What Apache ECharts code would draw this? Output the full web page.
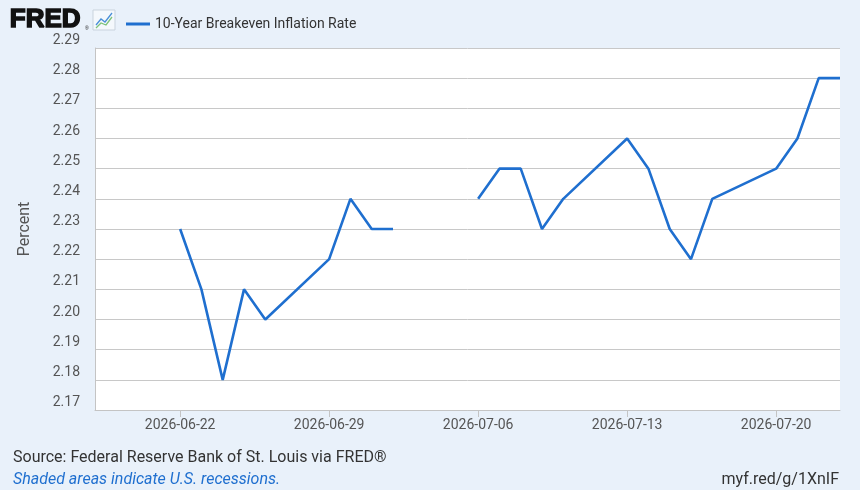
<!DOCTYPE html>
<html>
<head>
<meta charset="utf-8">
<script src="https://cdn.jsdelivr.net/npm/echarts@6/dist/echarts.min.js"></script>
<style>
html,body{margin:0;padding:0;background:#e9f1fa;}
#chart{width:860px;height:490px;}
</style>
</head>
<body>
<div id="chart"></div>
<script>
var seriesName = '10-Year Breakeven Inflation Rate';
var dates = ['2026-06-22','2026-06-23','2026-06-24','2026-06-25','2026-06-26',
  '2026-06-29','2026-06-30','2026-07-01','2026-07-02','2026-07-03',
  '2026-07-06','2026-07-07','2026-07-08','2026-07-09','2026-07-10',
  '2026-07-13','2026-07-14','2026-07-15','2026-07-16','2026-07-17',
  '2026-07-20','2026-07-21','2026-07-22','2026-07-23'];
var values = [2.23,2.21,2.18,2.21,2.20,
  2.22,2.24,2.23,2.23,null,
  2.24,2.25,2.25,2.23,2.24,
  2.26,2.25,2.23,2.22,2.24,
  2.25,2.26,2.28,2.28];
var xTickDates = ['2026-06-22','2026-06-29','2026-07-06','2026-07-13','2026-07-20'];
var xMin = '2026-06-18';
var xMax = '2026-07-23';
var yMin = 2.17, yMax = 2.29, yStep = 0.01;

var chart = echarts.init(document.getElementById('chart'));
function ts(d){ return +echarts.number.parseDate(d); }
var data = dates.map(function(d, i){ return [ts(d), values[i]]; });
var tickVals = xTickDates.map(ts);
var blue = '#1f6fcf';
var fontFam = 'Roboto, "Noto Sans", sans-serif';

chart.setOption({
  backgroundColor: '#e9f1fa',
  animation: false,
  textStyle: {fontFamily: fontFam},
  grid: {left: 95, right: 20, top: 48, bottom: 80, containLabel: false,
    show: true, backgroundColor: '#ffffff', borderWidth: 0},
  legend: {
    left: 121, top: 12, icon: 'rect', itemWidth: 24, itemHeight: 3, itemGap: 10,
    textStyle: {fontSize: 14, color: '#333', fontFamily: fontFam},
    data: [seriesName]
  },
  xAxis: {
    type: 'value', min: ts(xMin), max: ts(xMax),
    axisLine: {show: true, lineStyle: {color: '#c4c4c4', width: 1}},
    axisTick: {show: true, customValues: tickVals, length: 7, lineStyle: {color: '#c4c4c4'}},
    splitLine: {show: false},
    axisLabel: {
      customValues: tickVals, color: '#555', fontSize: 14, margin: 8, fontFamily: fontFam,
      formatter: function(v){ return echarts.time.format(v, '{yyyy}-{MM}-{dd}', false); }
    }
  },
  yAxis: {
    type: 'value', min: yMin, max: yMax, interval: yStep,
    name: 'Percent', nameLocation: 'middle', nameGap: 62, nameRotate: 90,
    nameTextStyle: {color: '#555', fontSize: 16, fontFamily: fontFam},
    axisLine: {show: true, lineStyle: {color: '#c4c4c4', width: 1}},
    axisTick: {show: false},
    splitLine: {show: true, lineStyle: {color: '#c8c8c8', width: 1}},
    axisLabel: {
      color: '#555', fontSize: 14, margin: 15, verticalAlign: 'bottom', lineHeight: 15,
      fontFamily: fontFam,
      formatter: function(v){ return v.toFixed(2); }
    }
  },
  series: [{
    name: seriesName, type: 'line', data: data, showSymbol: false, symbol: 'none',
    connectNulls: false, color: blue,
    lineStyle: {color: blue, width: 2.6}
  }],
  graphic: [
    {type: 'text', left: 9, top: 6, style: {text: 'FRED', fontSize: 26, fontWeight: 'bold',
      fontFamily: '"Liberation Sans", Arial, sans-serif', fill: '#111', stroke: '#111', lineWidth: 1.5}},
    {type: 'text', left: 85, top: 26, style: {text: '®', fontSize: 5, fill: '#111'}},
    {type: 'rect', shape: {x: 93, y: 10, width: 22, height: 20}, style: {fill: '#f4f8fc', stroke: '#c9d3dd', lineWidth: 1}},
    {type: 'polyline', shape: {points: [[96,25],[101,19],[105,22],[112,13]]}, style: {stroke: '#4a8fd8', lineWidth: 1.3, fill: null}},
    {type: 'polyline', shape: {points: [[96,28],[101,23],[106,25],[112,17]]}, style: {stroke: '#7dc27a', lineWidth: 1.3, fill: null}},
    {type: 'text', left: 13, top: 450, style: {text: 'Source: Federal Reserve Bank of St. Louis via FRED®',
      fontSize: 16, fill: '#333', fontFamily: fontFam}},
    {type: 'text', left: 13, top: 472, style: {text: 'Shaded areas indicate U.S. recessions.',
      fontSize: 16, fontStyle: 'italic', fill: '#1f6fcf', fontFamily: fontFam}},
    {type: 'text', right: 21, top: 472, style: {text: 'myf.red/g/1XnIF',
      fontSize: 16, fill: '#333', fontFamily: fontFam}}
  ]
});
</script>
</body>
</html>
